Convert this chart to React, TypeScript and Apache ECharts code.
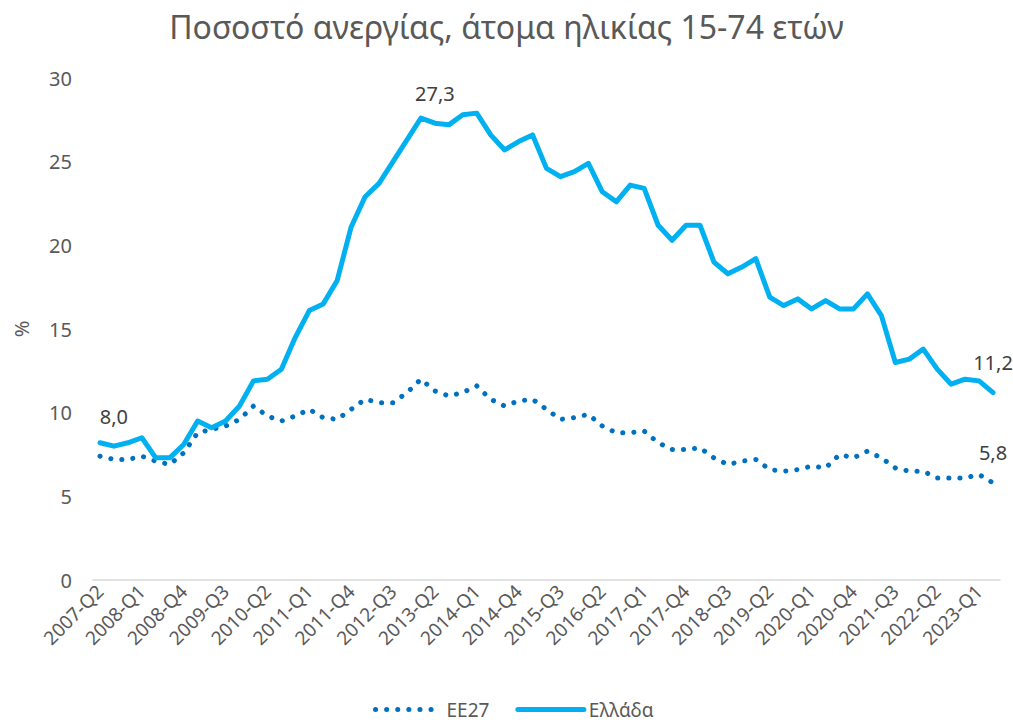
import React, { useEffect, useRef } from "react";
import * as echarts from "echarts";

const categories = [
  "2007-Q2", "2007-Q3", "2007-Q4",
  "2008-Q1", "2008-Q2", "2008-Q3", "2008-Q4",
  "2009-Q1", "2009-Q2", "2009-Q3", "2009-Q4",
  "2010-Q1", "2010-Q2", "2010-Q3", "2010-Q4",
  "2011-Q1", "2011-Q2", "2011-Q3", "2011-Q4",
  "2012-Q1", "2012-Q2", "2012-Q3", "2012-Q4",
  "2013-Q1", "2013-Q2", "2013-Q3", "2013-Q4",
  "2014-Q1", "2014-Q2", "2014-Q3", "2014-Q4",
  "2015-Q1", "2015-Q2", "2015-Q3", "2015-Q4",
  "2016-Q1", "2016-Q2", "2016-Q3", "2016-Q4",
  "2017-Q1", "2017-Q2", "2017-Q3", "2017-Q4",
  "2018-Q1", "2018-Q2", "2018-Q3", "2018-Q4",
  "2019-Q1", "2019-Q2", "2019-Q3", "2019-Q4",
  "2020-Q1", "2020-Q2", "2020-Q3", "2020-Q4",
  "2021-Q1", "2021-Q2", "2021-Q3", "2021-Q4",
  "2022-Q1", "2022-Q2", "2022-Q3", "2022-Q4",
  "2023-Q1", "2023-Q2",
];

const eu27 = [
  7.4, 7.2, 7.2, 7.4, 7.1, 6.9, 7.6, 8.8, 9.0, 9.2,
  9.6, 10.4, 9.8, 9.5, 9.8, 10.2, 9.7, 9.6, 10.2, 10.8,
  10.6, 10.6, 11.2, 12.0, 11.3, 11.0, 11.2, 11.6, 10.8, 10.4,
  10.7, 10.8, 10.2, 9.6, 9.7, 9.9, 9.2, 8.8, 8.8, 8.9,
  8.2, 7.8, 7.8, 7.9, 7.3, 6.9, 7.1, 7.2, 6.6, 6.5,
  6.6, 6.8, 6.7, 7.5, 7.3, 7.7, 7.3, 6.7, 6.5, 6.5,
  6.1, 6.1, 6.1, 6.3, 5.8,
];

const greece = [
  8.2, 8.0, 8.2, 8.5, 7.3, 7.3, 8.1, 9.5, 9.1, 9.5,
  10.4, 11.9, 12.0, 12.6, 14.5, 16.1, 16.5, 17.9, 21.1, 22.9,
  23.7, 25.0, 26.3, 27.6, 27.3, 27.2, 27.8, 27.9, 26.6, 25.7,
  26.2, 26.6, 24.6, 24.1, 24.4, 24.9, 23.2, 22.6, 23.6, 23.4,
  21.2, 20.3, 21.2, 21.2, 19.0, 18.3, 18.7, 19.2, 16.9, 16.4,
  16.8, 16.2, 16.7, 16.2, 16.2, 17.1, 15.8, 13.0, 13.2, 13.8,
  12.6, 11.7, 12.0, 11.9, 11.2,
];

const greeceLabelled = [1, 24, 64];
const eu27Labelled = [64];

const seriesNames = ["ΕΕ27", "Ελλάδα"];
const titleText = "Ποσοστό ανεργίας, άτομα ηλικίας 15-74 ετών";

const FONT = "'Noto Sans', sans-serif";

export default function App() {
  const ref = useRef<HTMLDivElement>(null);
  useEffect(() => {
    document.body.style.margin = "0";
    const chart = echarts.init(ref.current!, undefined, { renderer: "svg" });
    const fmt = (p: any) => Number(p.value).toFixed(1).replace(".", ",");
    const withLabels = (arr: number[], idx: number[]) =>
      arr.map((v, i) =>
        idx.includes(i)
          ? { value: v, symbol: "circle", symbolSize: 0.1, label: { show: true } }
          : v
      );
    const labelStyle = {
      show: false,
      position: "top",
      distance: 20,
      formatter: fmt,
      color: "#404040",
      fontSize: 20,
      fontFamily: FONT,
    };
    chart.setOption({
      animation: false,
      backgroundColor: "#ffffff",
      title: {
        text: titleText,
        left: "center",
        top: 5,
        textStyle: { color: "#595959", fontSize: 32, fontWeight: "normal", fontFamily: FONT },
      },
      grid: { left: 93, right: 13, top: 78, bottom: 145 },
      legend: {
        left: 368,
        bottom: 1,
        itemWidth: 66,
        itemHeight: 12,
        itemGap: 26,
        itemStyle: { opacity: 0 },
        lineStyle: { width: 5, cap: "round" },
        textStyle: { color: "#595959", fontSize: 19, fontFamily: FONT },
        data: seriesNames,
      },
      xAxis: {
        type: "category",
        data: categories,
        boundaryGap: true,
        axisLine: { lineStyle: { color: "#d9d9d9", width: 1.5 } },
        axisTick: { show: false },
        axisLabel: {
          interval: 2,
          rotate: 45,
          margin: 8,
          color: "#595959",
          fontSize: 19,
          fontFamily: FONT,
        },
        splitLine: { show: false },
      },
      yAxis: {
        type: "value",
        min: 0,
        max: 30,
        interval: 5,
        name: "%",
        nameLocation: "middle",
        nameGap: 62,
        nameTextStyle: { color: "#595959", fontSize: 20, fontFamily: FONT },
        axisLine: { show: false },
        axisTick: { show: false },
        splitLine: { show: false },
        axisLabel: { color: "#595959", fontSize: 20, margin: 21, fontFamily: FONT },
      },
      series: [
        {
          name: seriesNames[0],
          type: "line",
          data: withLabels(eu27, eu27Labelled),
          symbol: "none",
          lineStyle: { color: "#0070C0", width: 5, type: [0.1, 11], cap: "round" },
          itemStyle: { color: "#0070C0" },
          label: labelStyle,
          z: 2,
        },
        {
          name: seriesNames[1],
          type: "line",
          data: withLabels(greece, greeceLabelled),
          symbol: "none",
          lineStyle: { color: "#00B0F0", width: 5, cap: "round", join: "round" },
          itemStyle: { color: "#00B0F0" },
          label: labelStyle,
          z: 3,
        },
      ],
    });
    return () => chart.dispose();
  }, []);
  return <div ref={ref} style={{ width: 1013, height: 725 }} />;
}
